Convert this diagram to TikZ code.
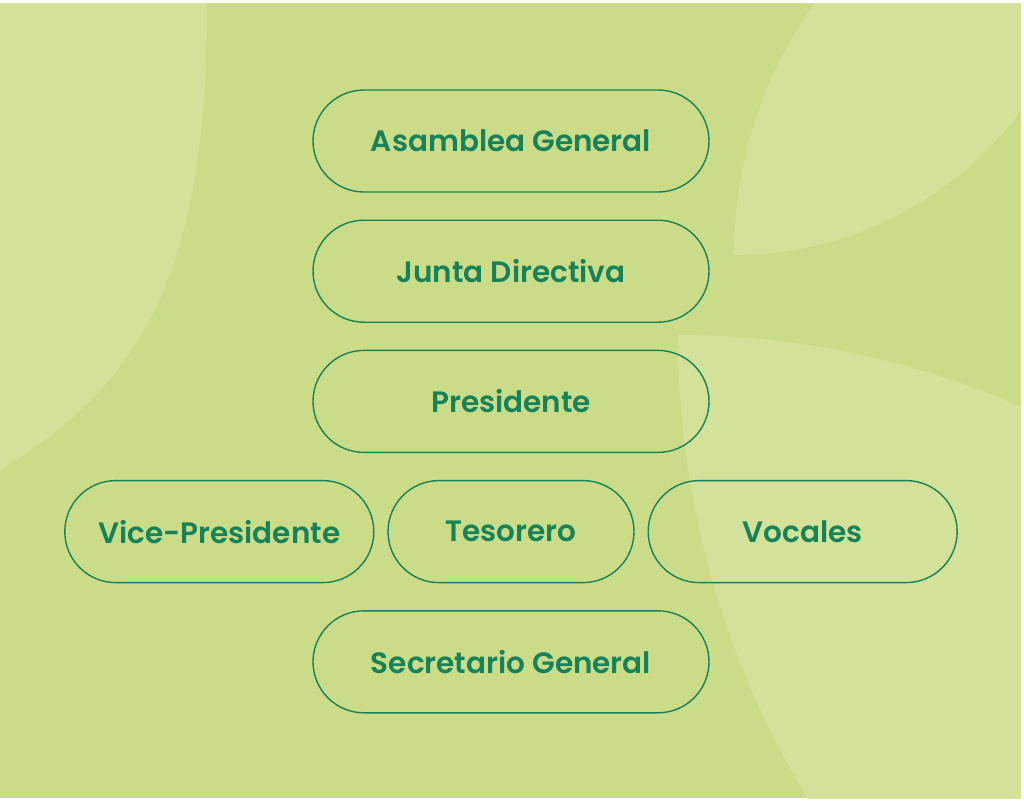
\documentclass[tikz,border=0pt]{standalone}
\usepackage{fontspec}
\setmainfont{Poppins}[UprightFont={* SemiBold}]
\usetikzlibrary{positioning}
\definecolor{bggreen}{RGB}{203,220,136}
\definecolor{ltgreen}{RGB}{211,225,153}
\definecolor{dkgreen}{RGB}{22,130,90}
\tikzset{
  pill/.style={draw=dkgreen,line width=1.4pt,rounded corners=51pt,minimum height=102pt,
    minimum width=396pt,text=dkgreen,inner sep=0pt,font=\fontsize{29.5}{32}\selectfont},
  smallpill/.style={pill,minimum width=309pt}
}
\begin{document}
\begin{tikzpicture}[x=1pt,y=-1pt]
\useasboundingbox (0,0) rectangle (1024,801);
% background
\fill[white] (0,0) rectangle (1024,801);
\fill[bggreen] (0,3) rectangle (1021,798);
\begin{scope}
\clip (0,3) rectangle (1021,798);
\fill[ltgreen] (0,3) -- (207,3) .. controls (207,260) and (150,380) .. (0,470) -- cycle;
\begin{scope}
\clip (1167,255) circle (433pt);
\fill[ltgreen] (734,-102) circle (357pt);
\end{scope}
\begin{scope}
\clip (678,1188) circle (853pt);
\fill[ltgreen] (1570,335) circle (892pt);
\end{scope}
\end{scope}
%
\node[pill] (asamblea) at (511,141) {Asamblea General};
\node[pill,below=26.8pt of asamblea] (junta) {Junta Directiva};
\node[pill,below=26.8pt of junta] (presi) {Presidente};
\node[pill,minimum width=246pt,below=26.8pt of presi] (teso) {Tesorero};
\node[smallpill,left=12.8pt of teso] (vice) {Vice-Presidente};
\node[smallpill,right=12.8pt of teso] (vocal) {Vocales};
\node[pill,below=26.8pt of teso] (secre) {Secretario General};
\end{tikzpicture}
\end{document}
